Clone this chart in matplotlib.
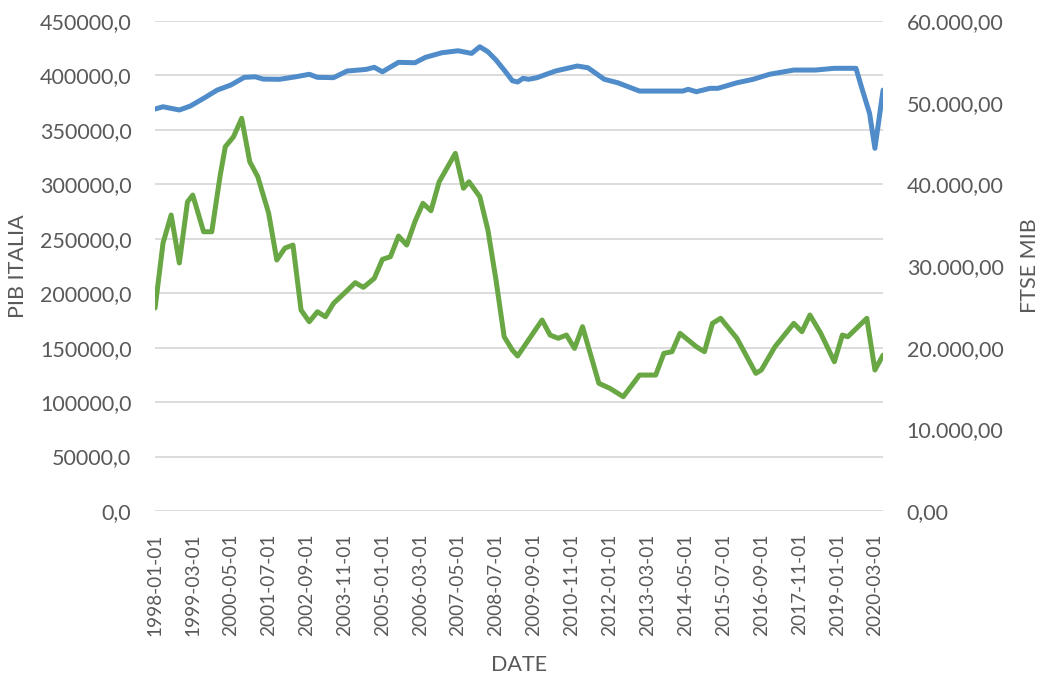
import matplotlib
matplotlib.use("Agg")
import matplotlib.pyplot as plt
import matplotlib.dates as mdates
from matplotlib.ticker import FuncFormatter
import pandas as pd

# PIB trimestrale (asse sinistro) e FTSE MIB (asse destro)
pib_dates = ["1998-01", "1998-04", "1998-10", "1999-02", "1999-07", "1999-12", "2000-05", "2000-10",
             "2001-02", "2001-05", "2001-11", "2002-05", "2002-10", "2003-01", "2003-07", "2003-12",
             "2004-07", "2004-10", "2005-01", "2005-07", "2006-01", "2006-05", "2006-11", "2007-05",
             "2007-10", "2008-01", "2008-04", "2008-07", "2008-10", "2009-01", "2009-03", "2009-05",
             "2009-07", "2009-10", "2010-05", "2011-01", "2011-05", "2011-11", "2012-04", "2012-12",
             "2013-07", "2014-04", "2014-06", "2014-09", "2015-02", "2015-05", "2015-12", "2016-06",
             "2016-12", "2017-09", "2018-05", "2018-12", "2019-08", "2019-10", "2020-01", "2020-03",
             "2020-06"]
pib_values = [369200, 371300, 368300, 371900, 379000, 386600, 391200, 398300,
              398800, 396700, 396500, 398800, 401100, 398300, 398000, 404100,
              405600, 407500, 403400, 412100, 411700, 416700, 420900, 422700,
              420300, 426400, 421800, 414200, 405000, 395200, 394000, 397400,
              396500, 397900, 404100, 408700, 407100, 396500, 393300, 385700,
              385700, 385700, 387300, 385100, 388200, 388200, 393300, 396500,
              401100, 405000, 405000, 406600, 406600, 389700, 365200, 333100,
              386600]

ftse_dates = ["1998-01", "1998-04", "1998-07", "1998-10", "1999-01", "1999-03", "1999-07", "1999-10",
              "2000-01", "2000-03", "2000-06", "2000-09", "2000-12", "2001-03", "2001-07", "2001-10",
              "2002-01", "2002-04", "2002-07", "2002-10", "2003-01", "2003-04", "2003-07", "2003-11",
              "2004-03", "2004-06", "2004-10", "2005-01", "2005-04", "2005-07", "2005-10", "2006-01",
              "2006-04", "2006-07", "2006-10", "2007-04", "2007-07", "2007-09", "2008-01", "2008-04",
              "2008-07", "2008-10", "2009-01", "2009-03", "2009-12", "2010-03", "2010-06", "2010-09",
              "2010-12", "2011-03", "2011-09", "2012-01", "2012-06", "2012-12", "2013-06", "2013-09",
              "2013-12", "2014-03", "2014-09", "2014-12", "2015-03", "2015-06", "2015-12", "2016-07",
              "2016-09", "2017-02", "2017-09", "2017-12", "2018-03", "2018-07", "2018-12", "2019-03",
              "2019-05", "2019-12", "2020-03", "2020-06"]
ftse_values = [24860, 32820, 36250, 30370, 37870, 38690, 34200, 34200,
               40940, 44610, 45830, 48090, 42770, 40940, 36490, 30740,
               32200, 32570, 24610, 23180, 24400, 23790, 25430, 26690,
               27960, 27390, 28490, 30820, 31140, 33670, 32570, 35430,
               37680, 36770, 40320, 43800, 39520, 40320, 38490, 34410,
               28290, 21340, 19710, 18980, 23390, 21550, 21150, 21550,
               19920, 22570, 15640, 15030, 14000, 16650, 16650, 19310,
               19510, 21760, 20120, 19510, 22980, 23600, 21150, 16860,
               17270, 20120, 22980, 21960, 24000, 21760, 18280, 21550,
               21340, 23600, 17270, 19100]

left_ticks = [0, 50000, 100000, 150000, 200000, 250000, 300000, 350000, 400000, 450000]
right_ticks = [0, 10000, 20000, 30000, 40000, 50000, 60000]

text_col = "#595959"
plt.rcParams["font.family"] = ["Lato", "DejaVu Sans"]

fig = plt.figure(figsize=(10.42, 6.79), dpi=100)
ax = fig.add_axes([0.1488, 0.2474, 0.6987, 0.7216])
ax2 = ax.twinx()

ax.plot(pd.to_datetime(pib_dates), pib_values, color="#4f8cc9", lw=3.6, solid_capstyle="round", zorder=3)
ax2.plot(pd.to_datetime(ftse_dates), ftse_values, color="#68a743", lw=3.6, solid_capstyle="round", zorder=3)

ax.set_ylim(0, 450000)
ax2.set_ylim(0, 60000)
ax.set_yticks(left_ticks)
ax2.set_yticks(right_ticks)
ax.yaxis.set_major_formatter(FuncFormatter(lambda v, p: f"{v:.1f}".replace(".", ",")))
ax2.yaxis.set_major_formatter(FuncFormatter(
    lambda v, p: f"{v:,.2f}".replace(",", "X").replace(".", ",").replace("X", ".")))

xticks = pd.date_range("1998-01-01", "2020-03-01", freq="14MS")
ax.set_xticks(xticks)
ax.xaxis.set_major_formatter(mdates.DateFormatter("%Y-%m-%d"))
ax.set_xlim(pd.Timestamp("1998-01-01"), pd.Timestamp("2020-06-01"))

ax.grid(axis="y", color="#d9d9d9", lw=1.3, zorder=0)
ax.set_axisbelow(True)
for a in (ax, ax2):
    for s in a.spines.values():
        s.set_visible(False)
    a.tick_params(length=0, labelsize=15.5, labelcolor=text_col)
ax.tick_params(axis="y", pad=17)
ax2.tick_params(axis="y", pad=17)
ax.tick_params(axis="x", pad=16, labelrotation=90, labelsize=13.7)

ax.set_ylabel("PIB ITALIA", fontsize=15.5, color=text_col, va="center")
ax.yaxis.set_label_coords(-0.188, 0.5)
ax2.set_ylabel("FTSE MIB", fontsize=15.5, color=text_col, va="center", rotation=90)
ax2.yaxis.set_label_coords(1.202, 0.5)
ax.set_xlabel("DATE", fontsize=15.5, color=text_col, va="center")
ax.xaxis.set_label_coords(0.5, -0.314)

fig.savefig("out.png", dpi=100)
